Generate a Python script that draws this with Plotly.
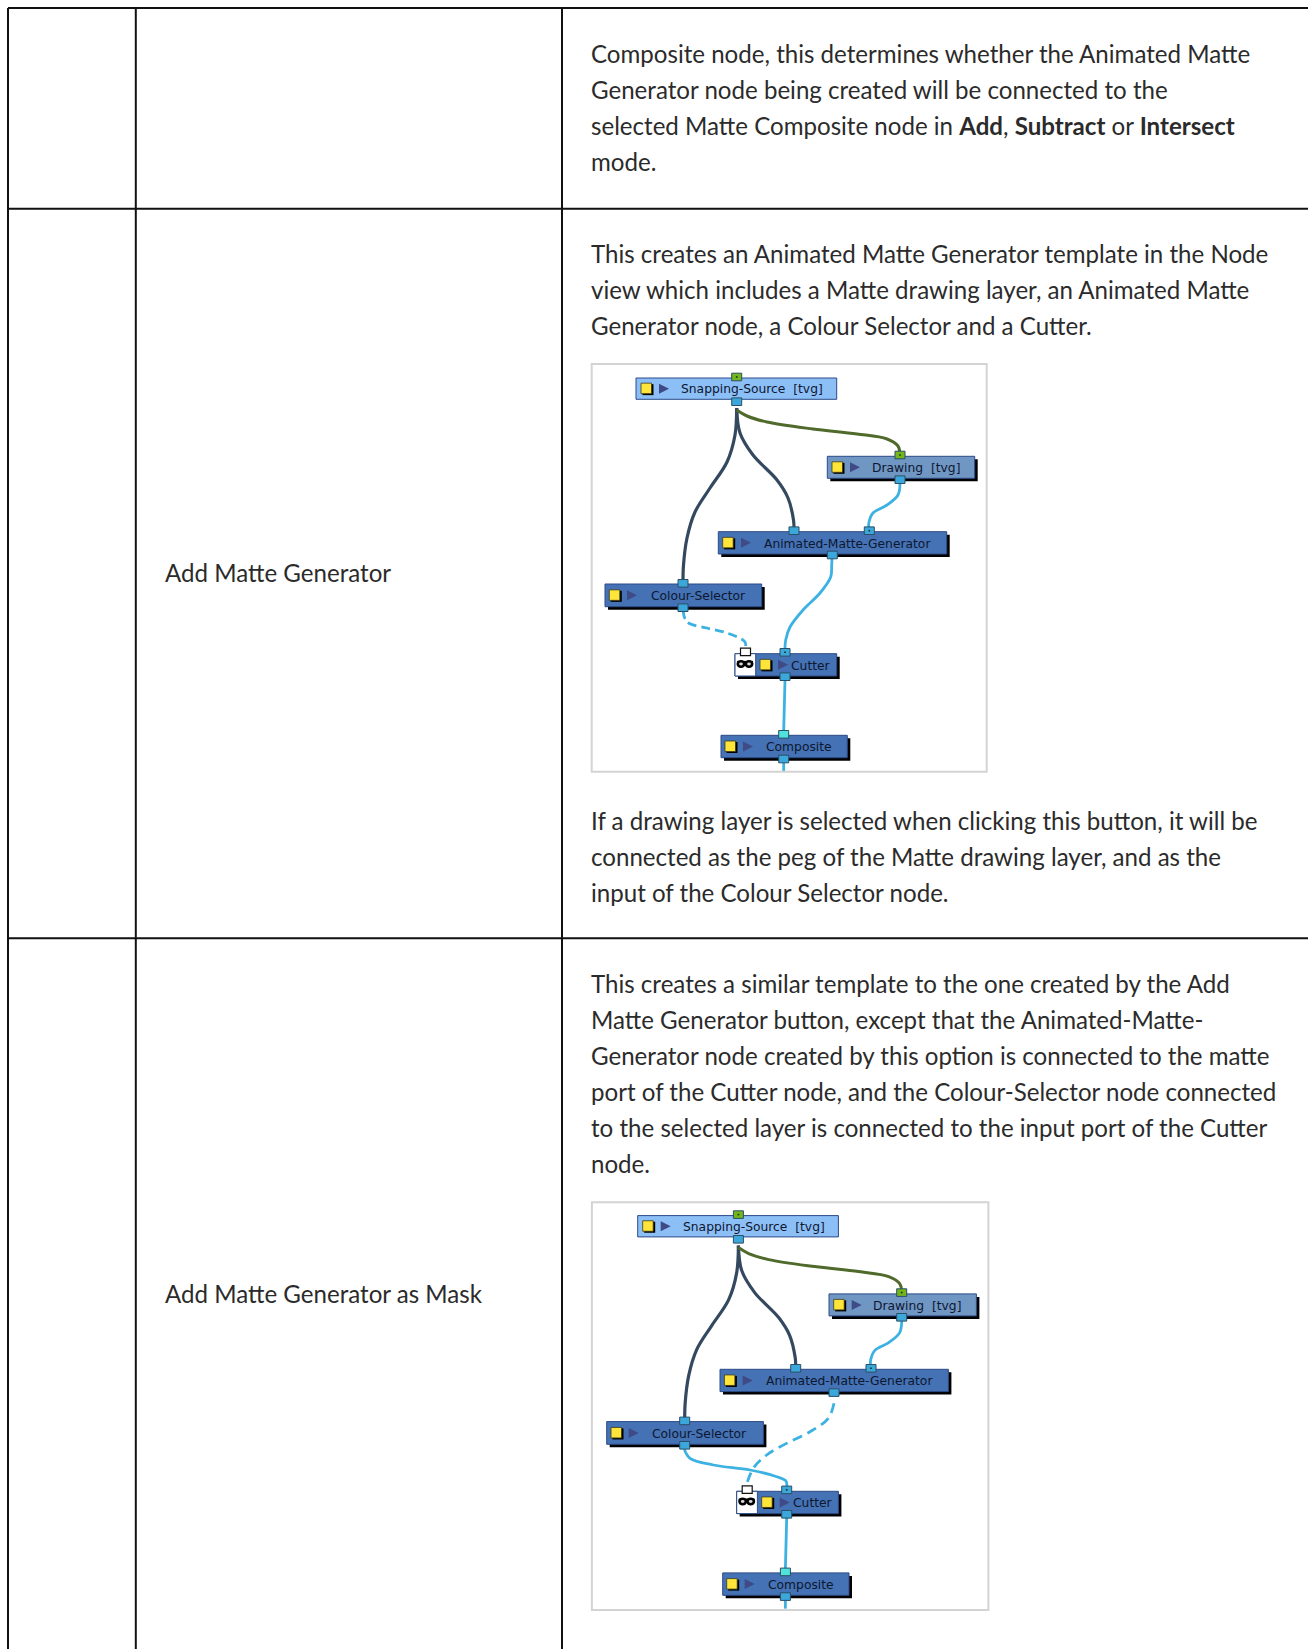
import plotly.graph_objects as go

W, H = 1308, 1649
RULE_H = [8, 208.7, 938.3]
RULE_V = [8, 135.8, 562]
BODY_FONT = "Lato"
BODY_SIZE = 24.1

BODY_X = 588.8
BODY_Y = [53.3, 89.3, 125.3, 161.3, 253.5, 289.5, 325.5, 820, 856, 892,
          983.7, 1019.7, 1055.7, 1091.7, 1127.7, 1163.7]
BODY_TEXT = [
    "Composite node, this determines whether the Animated Matte",
    "Generator node being created will be connected to the",
    "selected Matte Composite node in <b>Add</b>, <b>Subtract</b> or <b>Intersect</b>",
    "mode.",
    "This creates an Animated Matte Generator template in the Node",
    "view which includes a Matte drawing layer, an Animated Matte",
    "Generator node, a Colour Selector and a Cutter.",
    "If a drawing layer is selected when clicking this button, it will be",
    "connected as the peg of the Matte drawing layer, and as the",
    "input of the Colour Selector node.",
    "This creates a similar template to the one created by the Add",
    "Matte Generator button, except that the Animated-Matte-",
    "Generator node created by this option is connected to the matte",
    "port of the Cutter node, and the Colour-Selector node connected",
    "to the selected layer is connected to the input port of the Cutter",
    "node.",
]
LABEL_X = 163
LABEL_Y = [572.4, 1293]
LABEL_TEXT = ["Add Matte Generator", "Add Matte Generator as Mask"]

# Diagram frames
FRAMES = [(591.7, 364, 986.7, 771.7), (591.9, 1202.3, 988.4, 1610)]
OFFSETS = [(0, 0), (1.7, 837.6)]

# Nodes
NODE_NAME = ["Snapping-Source\u00a0\u00a0[tvg]", "Drawing\u00a0\u00a0[tvg]", "Animated-Matte-Generator",
             "Colour-Selector", "Cutter", "Composite"]
NODE_X0 = [636, 827.3, 718.3, 605, 735, 721]
NODE_X1 = [836.7, 974.7, 946.7, 761.7, 836.7, 847.3]
NODE_Y0 = [378, 456.3, 531.7, 584, 653.7, 735.3]
NODE_Y1 = [399.3, 478.3, 554, 606.7, 676, 757.7]
NODE_FILL = ["#8DBFF7", "#7096C4", "#4472B4", "#4472B4", "#4472B4", "#4472B4"]
NODE_TX = [752.2, 915.5, 847.5, 698, 810.8, 799]
NODE_SQ = [641, 832, 722.7, 609.3, 760, 725]
NODE_TRI = [664, 855, 746, 632, 783, 748]
NODE_SHADOW = [0, 3, 3, 3, 3, 3]

# Ports
PORT_X = [736.7, 736.7, 900, 900, 794, 869.3, 832.3, 683, 683, 785, 785, 783.7, 783.7]
PORT_Y = [377, 401.7, 455, 479.7, 530.7, 530.7, 555, 583.3, 607.7, 652.3, 676.7, 734.3, 759]
PORT_FILL = ["#74B51B", "#3BA7DA", "#74B51B", "#3BA7DA", "#3BA7DA", "#3BA7DA", "#3BA7DA",
             "#3BA7DA", "#3BA7DA", "#3BA7DA", "#3BA7DA", "#4FE3DC", "#3BA7DA"]
PORT_DOT = [1, 0, 1, 0, 0, 1, 0, 0, 0, 1, 0, 0, 0]

# Links shared by both diagrams
DARK_A_X = [736.7, 740, 753, 777, 788, 793.5, 794]
DARK_A_Y = [408, 433, 455, 480, 498, 520, 528]
DARK_B_X = [736.7, 735, 727, 710, 695, 687, 683.5, 683]
DARK_B_Y = [408, 435, 462, 488, 512, 538, 565, 583]
GREEN_X = [736.7, 747, 767, 813, 857, 887, 898, 900]
GREEN_Y = [410, 416, 422, 429, 434, 439, 446, 453]
BLUE_A_X = [900, 898, 887, 873, 869, 868.7]
BLUE_A_Y = [483, 495, 505, 513, 522, 528]
DOWN_X = [785, 783.7]
DOWN_Y = [680, 731]
OUT_X = [783.7, 783.7]
OUT_Y = [763, 771]

# Links only in the first diagram
BLUE_B_X = [832, 831.7, 830.7, 820, 803, 790, 785.7, 785]
BLUE_B_Y = [558, 565, 577, 593, 610, 627, 640, 648]
DASH_A_X = [683, 687, 707, 727, 745, 745.5]
DASH_A_Y = [610, 622, 628, 633, 642, 648]

# Links only in the second diagram
SOLID_C_X = [684.3, 690, 713.3, 750, 776.7, 786, 786.7]
SOLID_C_Y = [1449.3, 1458.3, 1465, 1470, 1476.7, 1481, 1487.3]
DASH_C_X = [834, 828.3, 810, 786.7, 766.7, 753.3, 745.7]
DASH_C_Y = [1403.3, 1418.3, 1431.7, 1443.3, 1455, 1468.3, 1487.3]

DARK = "#34495F"
BLUE = "#3DB2E2"
GREEN = "#4F6A2A"
NAVY = "#2C4A86"

fig = go.Figure()


def link(xs, ys, color, width=2.8, dash="solid", dx=0, dy=0):
    fig.add_trace(go.Scatter(
        x=[v + dx for v in xs], y=[v + dy for v in ys], mode="lines",
        line=dict(color=color, width=width, dash=dash, shape="spline", smoothing=1),
        hoverinfo="skip"))


shapes = []
annos = []


def rect(x0, y0, x1, y1, fill="rgba(0,0,0,0)", line=None, lw=1):
    shapes.append(dict(type="rect", x0=x0, y0=y0, x1=x1, y1=y1, fillcolor=fill,
                       line=dict(color=line or "rgba(0,0,0,0)", width=lw if line else 0),
                       layer="above"))


def text(x, y, s, size, color, family, anchor="left"):
    annos.append(dict(x=x, y=y, text=s, showarrow=False, xanchor=anchor, yanchor="middle",
                      align="left", xref="x", yref="y",
                      font=dict(size=size, color=color, family=family)))


for k, ((dx, dy), frame) in enumerate(zip(OFFSETS, FRAMES)):
    link(DARK_A_X, DARK_A_Y, DARK, 3.2, dx=dx, dy=dy)
    link(DARK_B_X, DARK_B_Y, DARK, 3.2, dx=dx, dy=dy)
    link(GREEN_X, GREEN_Y, GREEN, 3, dx=dx, dy=dy)
    link(BLUE_A_X, BLUE_A_Y, BLUE, dx=dx, dy=dy)
    link(DOWN_X, DOWN_Y, BLUE, dx=dx, dy=dy)
    link(OUT_X, OUT_Y, BLUE, dx=dx, dy=dy)
    if k == 0:
        link(BLUE_B_X, BLUE_B_Y, BLUE)
        link(DASH_A_X, DASH_A_Y, BLUE, dash="9px,5px")
    else:
        link(SOLID_C_X, SOLID_C_Y, BLUE)
        link(DASH_C_X, DASH_C_Y, BLUE, dash="10px,6px")

    rect(*frame, line="#D3D3D3", lw=2)

    for i, name in enumerate(NODE_NAME):
        x0, x1 = NODE_X0[i] + dx, NODE_X1[i] + dx
        y0, y1 = NODE_Y0[i] + dy, NODE_Y1[i] + dy
        sh = NODE_SHADOW[i]
        if sh:
            rect(x0 + sh, y0 + sh, x1 + sh, y1 + sh, fill="#000000")
        rect(x0, y0, x1, y1, fill=NODE_FILL[i], line=NAVY)
        ym = (y0 + y1) / 2
        sq = NODE_SQ[i] + dx
        rect(sq + 1.5, ym - 4.5, sq + 12.5, ym + 6.5, fill="#000000")
        rect(sq, ym - 5.5, sq + 10.5, ym + 5, fill="#FFE43A", line="#3A3A1A", lw=0.8)
        t = NODE_TRI[i] + dx
        shapes.append(dict(type="path", path=f"M {t-5} {ym-5} L {t+5} {ym} L {t-5} {ym+5} Z",
                           fillcolor="#3F4A86", line=dict(width=0), layer="above"))
        text(NODE_TX[i] + dx, ym + 0.8, name, 12.3, "#0E1730", "DejaVu Sans", "center")

    # Matte badge on the Cutter
    cx0, cy0, cy1 = NODE_X0[4] + dx, NODE_Y0[4] + dy, NODE_Y1[4] + dy
    rect(cx0, cy0, cx0 + 20.7, cy1, fill="#FFFFFF", line=NAVY)
    rect(cx0 + 5.5, cy0 - 5.5, cx0 + 15.5, cy0 + 2, fill="#FFFFFF", line="#111111", lw=1.2)
    rect(cx0 + 2, cy0 + 7.2, cx0 + 18, cy0 + 9.4, fill="#000000")
    for off in (6, 14):
        shapes.append(dict(type="circle", x0=cx0 + off - 3.2, x1=cx0 + off + 3.2,
                           y0=cy0 + 7.5, y1=cy0 + 13, fillcolor="#D8D8D8",
                           line=dict(color="#000000", width=2.6), layer="above"))

    for i in range(len(PORT_X)):
        px, py = PORT_X[i] + dx, PORT_Y[i] + dy
        rect(px - 5, py - 3.8, px + 5, py + 3.8, fill=PORT_FILL[i], line="#2A4F66", lw=1)
        if PORT_DOT[i]:
            rect(px - 0.8, py - 0.8, px + 0.8, py + 0.8, fill="#123018")

for y in RULE_H:
    shapes.append(dict(type="line", x0=RULE_V[0], x1=W, y0=y, y1=y,
                       line=dict(color="#111111", width=2), layer="above"))
for x in RULE_V:
    shapes.append(dict(type="line", x0=x, x1=x, y0=RULE_H[0], y1=H,
                       line=dict(color="#111111", width=2), layer="above"))

for y, s in zip(BODY_Y, BODY_TEXT):
    text(BODY_X, y, s, BODY_SIZE, "#2B2B2B", BODY_FONT)
for y, s in zip(LABEL_Y, LABEL_TEXT):
    text(LABEL_X, y, s, BODY_SIZE, "#2B2B2B", BODY_FONT)

fig.update_layout(
    width=W, height=H, margin=dict(l=0, r=0, t=0, b=0), showlegend=False,
    paper_bgcolor="#FFFFFF", plot_bgcolor="#FFFFFF", hovermode=False,
    xaxis=dict(range=[0, W], visible=False, fixedrange=True),
    yaxis=dict(range=[H, 0], visible=False, fixedrange=True),
    shapes=shapes, annotations=annos,
)
fig.write_html("out.html", config={"displayModeBar": False},
               post_script="document.body.style.margin='0';document.body.style.overflow='hidden';")
